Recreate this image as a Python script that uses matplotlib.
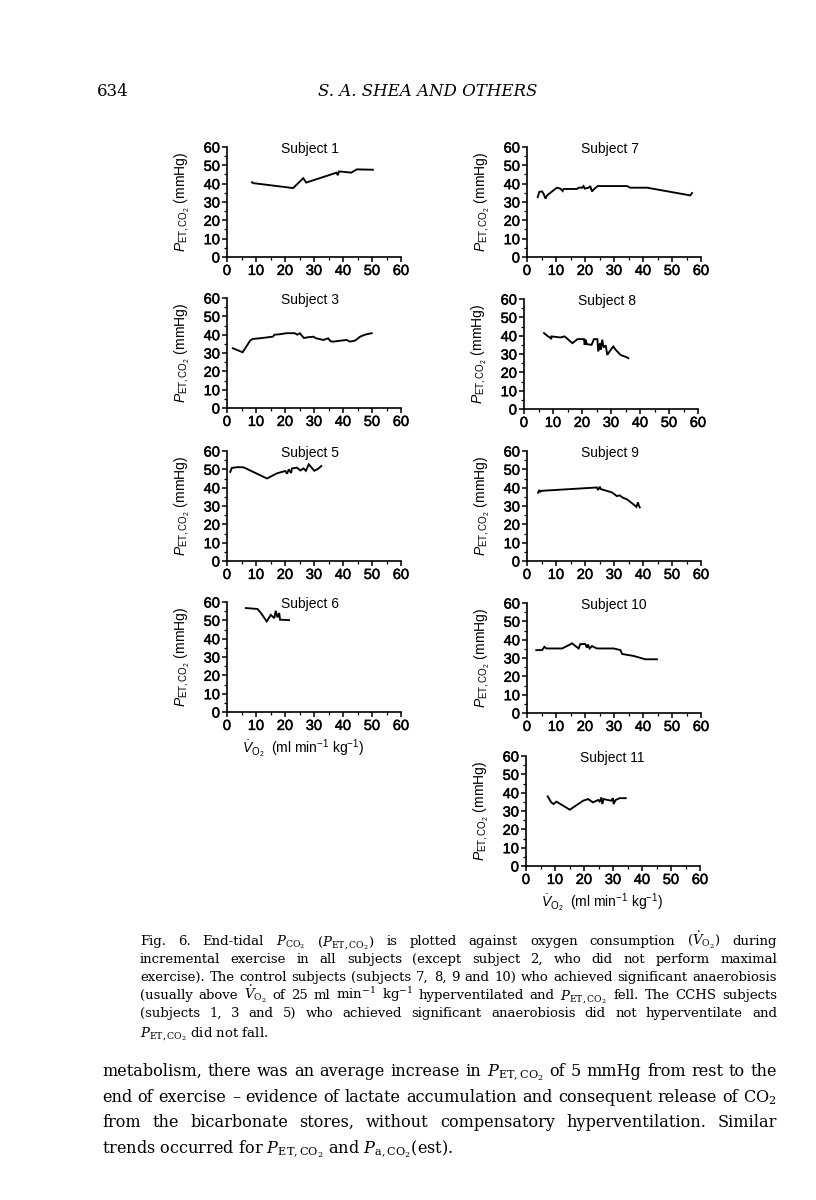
import matplotlib
matplotlib.use("Agg")
import matplotlib.pyplot as plt
import matplotlib.patheffects as pe
from matplotlib.ticker import MultipleLocator

plt.rcParams['font.family'] = ['Liberation Sans', 'DejaVu Sans']
plt.rcParams['mathtext.fontset'] = 'custom'
plt.rcParams['mathtext.rm'] = 'Liberation Sans'
plt.rcParams['mathtext.it'] = 'Liberation Sans:italic'
plt.rcParams['mathtext.bf'] = 'Liberation Sans:bold'

# ---------------- data (VO2 ml/min/kg, PET,CO2 mmHg) ----------------
s1_x = [8.6, 9.0, 22.8, 26.3, 27.3, 37.8, 38.2, 38.6, 39.3, 42.8, 44.8, 50.3]
s1_y = [40.8, 40.3, 37.6, 43.0, 40.6, 46.0, 44.6, 46.6, 46.6, 46.0, 47.8, 47.6]

s3_x = [2.0, 5.4, 8.0, 8.9, 11.2, 15.8, 16.4, 18.1, 20.5, 23.4, 24.2, 25.1, 26.5, 28.0,
        29.7, 30.8, 33.2, 34.9, 35.7, 36.6, 39.5, 41.3, 42.4, 44.2, 45.9, 47.6, 49.9]
s3_y = [32.6, 30.4, 36.8, 37.7, 38.0, 38.9, 40.0, 40.2, 40.8, 40.8, 40.0, 40.8, 38.2, 38.6,
        38.9, 38.0, 37.1, 38.0, 36.4, 36.2, 36.8, 37.1, 36.2, 36.8, 38.9, 40.0, 40.8]

s5_x = [1.1, 1.7, 3.7, 5.7, 13.8, 17.2, 20.1, 20.7, 21.3, 22.1, 22.4, 24.1, 25.3, 26.4,
        27.2, 28.2, 28.7, 30.1, 31.6, 32.5]
s5_y = [48.6, 50.8, 51.2, 51.1, 45.0, 47.8, 49.1, 47.6, 50.0, 48.0, 50.5, 50.9, 49.4, 50.5,
        49.2, 52.7, 51.8, 49.2, 50.5, 51.8]

s6_x = [6.5, 10.5, 11.7, 13.7, 15.1, 16.3, 16.8, 17.4, 18.0, 18.3, 19.1, 21.4]
s6_y = [56.7, 56.2, 54.0, 49.4, 53.0, 51.2, 55.2, 51.6, 54.0, 50.3, 50.3, 50.1]

s7_x = [3.7, 4.25, 5.2, 5.7, 6.4, 6.9, 10.3, 11.5, 12.3, 12.6, 17.2, 17.8, 19.0, 19.5,
        19.9, 21.3, 21.8, 22.4, 23.3, 24.4, 34.5, 35.6, 41.4, 56.3, 56.9]
s7_y = [32.7, 35.5, 35.8, 34.5, 31.8, 33.6, 37.8, 37.3, 36.0, 37.1, 37.1, 37.8, 37.8, 38.7,
        37.3, 37.8, 38.7, 35.8, 37.3, 38.7, 38.7, 37.8, 37.8, 33.6, 34.9]

s8_x = [6.9, 8.3, 9.0, 9.4, 9.5, 12.6, 14.0, 16.7, 18.4, 20.7, 20.9, 21.3, 21.6, 23.3,
        24.1, 25.3, 25.6, 26.2, 26.4, 27.0, 27.4, 28.2, 28.7, 29.9, 30.8, 31.6, 33.3, 35.6, 36.0]
s8_y = [41.4, 39.6, 39.0, 38.1, 39.6, 39.0, 39.6, 35.9, 38.1, 38.1, 35.0, 37.8, 35.4, 35.0,
        38.1, 38.1, 31.4, 35.9, 32.3, 37.8, 33.6, 34.7, 29.5, 32.3, 34.1, 32.3, 29.5, 28.1, 27.7]

s9_x = [3.8, 4.3, 4.6, 5.2, 24.1, 24.5, 25.1, 25.5, 29.3, 31.0, 31.9, 33.1, 34.5, 35.9,
        37.0, 37.7, 38.3, 38.5, 38.9]
s9_y = [37.2, 38.7, 37.8, 38.3, 40.1, 38.7, 40.5, 39.2, 37.4, 35.4, 35.8, 34.5, 33.6, 31.9,
        30.5, 29.5, 31.9, 30.5, 29.2]

s10_x = [3.2, 5.2, 6.0, 6.7, 12.1, 14.9, 15.5, 17.8, 18.4, 20.1, 20.7, 21.0, 21.6, 22.4,
         24.1, 29.9, 32.2, 32.8, 36.8, 40.8, 44.8]
s10_y = [34.3, 34.3, 36.1, 35.2, 35.2, 37.4, 38.0, 35.2, 37.6, 37.6, 35.6, 37.4, 35.2, 36.5,
         35.2, 35.2, 34.3, 32.2, 31.1, 29.3, 29.3]

s11_x = [7.5, 8.7, 9.5, 10.5, 15.1, 19.7, 21.4, 23.1, 24.3, 24.9, 25.4, 26.0, 26.3, 26.8,
         29.4, 30.0, 30.2, 30.9, 32.3, 34.4]
s11_y = [38.0, 34.7, 33.8, 35.1, 30.7, 35.6, 36.5, 34.7, 35.6, 36.0, 35.2, 37.4, 33.8, 36.5,
         35.6, 37.0, 33.8, 36.0, 37.0, 37.0]

subject_names = ["Subject 1", "Subject 3", "Subject 5", "Subject 6",
                 "Subject 7", "Subject 8", "Subject 9", "Subject 10", "Subject 11"]
x_ticks = [0, 10, 20, 30, 40, 50, 60]
y_ticks = [0, 10, 20, 30, 40, 50, 60]

caption_lines = [
    r"Fig. 6. End-tidal $P_{\mathrm{CO_2}}$ ($P_{\mathrm{ET,CO_2}}$) is plotted against oxygen consumption ($\dot{V}_{\mathrm{O_2}}$) during",
    r"incremental exercise in all subjects (except subject 2, who did not perform maximal",
    r"exercise). The control subjects (subjects 7, 8, 9 and 10) who achieved significant anaerobiosis",
    r"(usually above $\dot{V}_{\mathrm{O_2}}$ of 25 ml min$^{-1}$ kg$^{-1}$ hyperventilated and $P_{\mathrm{ET,CO_2}}$ fell. The CCHS subjects",
    r"(subjects 1, 3 and 5) who achieved significant anaerobiosis did not hyperventilate and",
    r"$P_{\mathrm{ET,CO_2}}$ did not fall.",
]
body_lines = [
    r"metabolism, there was an average increase in $P_{\mathrm{ET,CO_2}}$ of 5 mmHg from rest to the",
    r"end of exercise – evidence of lactate accumulation and consequent release of CO$_2$",
    r"from the bicarbonate stores, without compensatory hyperventilation. Similar",
    r"trends occurred for $P_{\mathrm{ET,CO_2}}$ and $P_{\mathrm{a,CO_2}}$(est).",
]

# ---------------- figure ----------------
W, H = 816, 1200
fig = plt.figure(figsize=(W / 100, H / 100), dpi=100)
fig.patch.set_facecolor('white')

series = {
    "Subject 1": (s1_x, s1_y), "Subject 3": (s3_x, s3_y), "Subject 5": (s5_x, s5_y),
    "Subject 6": (s6_x, s6_y), "Subject 7": (s7_x, s7_y), "Subject 8": (s8_x, s8_y),
    "Subject 9": (s9_x, s9_y), "Subject 10": (s10_x, s10_y), "Subject 11": (s11_x, s11_y),
}
# pixel boxes (left, bottom) of each panel
boxes = {
    "Subject 1": (227, 257), "Subject 3": (227, 408), "Subject 5": (227, 561),
    "Subject 6": (227, 712), "Subject 7": (527, 257), "Subject 8": (524, 409),
    "Subject 9": (527, 561), "Subject 10": (527, 713), "Subject 11": (526, 866),
}
AW, AH = 174, 110
ylab = r"$P_{\mathrm{ET,CO_2}}$ (mmHg)"
xlab = r"$\dot{V}_{\mathrm{O_2}}$  (ml min$^{-1}$ kg$^{-1}$)"
tick_fx = [pe.withStroke(linewidth=0.35, foreground='black')]

for name in subject_names:
    lx, by = boxes[name]
    ax = fig.add_axes([lx / W, 1 - by / H, AW / W, AH / H])
    xs, ys = series[name]
    ax.plot(xs, ys, color='black', lw=1.35, solid_joinstyle='miter')
    ax.set_xlim(0, 60)
    ax.set_ylim(0, 60)
    ax.set_xticks(x_ticks)
    ax.set_yticks(y_ticks)
    ax.xaxis.set_minor_locator(MultipleLocator(5))
    ax.yaxis.set_minor_locator(MultipleLocator(5))
    for s in ('top', 'right'):
        ax.spines[s].set_visible(False)
    for s in ('left', 'bottom'):
        ax.spines[s].set_linewidth(1.2)
    ax.tick_params(which='major', direction='out', length=3.5, width=1.1,
                   labelsize=10.5, pad=1.5)
    ax.tick_params(which='minor', direction='out', length=2, width=0.9)
    for lbl in ax.get_xticklabels() + ax.get_yticklabels():
        lbl.set_path_effects(tick_fx)
    ax.patch.set_alpha(0)
    ax.text(0.31, 0.985, name, transform=ax.transAxes, ha='left', va='center',
            fontsize=10)
    ax.text(-0.255, 0.5, ylab, transform=ax.transAxes, rotation=90,
            ha='center', va='center', fontsize=10)
    if name in ("Subject 6", "Subject 11"):
        ax.text(0.44, -0.33, xlab, transform=ax.transAxes, ha='center',
                va='center', fontsize=10)

# ---------------- page text ----------------
SERIF = 'DejaVu Serif'
renderer = fig.canvas.get_renderer()


def fit_size(lines, width_px, trial=10.0):
    mx = 0
    for line in lines[:-1]:
        t = fig.text(0, 0, line, fontsize=trial, family=SERIF,
                     math_fontfamily='dejavuserif')
        mx = max(mx, t.get_window_extent(renderer).width)
        t.remove()
    return trial * width_px / mx * 0.995


def justify(lines, x0, x1, baselines, size):
    for i, (line, yb) in enumerate(zip(lines, baselines)):
        y = 1 - yb / H
        if i == len(lines) - 1:
            fig.text(x0 / W, y, line, fontsize=size, family=SERIF, va='baseline',
                     ha='left', math_fontfamily='dejavuserif')
            continue
        words = line.split(' ')
        ts = [fig.text(0, y, w, fontsize=size, family=SERIF, va='baseline',
                       ha='left', math_fontfamily='dejavuserif') for w in words]
        ws = [t.get_window_extent(renderer).width for t in ts]
        gap = (x1 - x0 - sum(ws)) / (len(words) - 1)
        x = x0
        for t, w in zip(ts, ws):
            t.set_x(x / W)
            x += w + gap


cap_size = fit_size(caption_lines, 777 - 140)
justify(caption_lines, 140, 777, [945, 963, 981, 999, 1017, 1036], cap_size)

body_size = fit_size(body_lines, 777 - 102)
justify(body_lines, 102, 777, [1076, 1102, 1127, 1153], body_size)

fig.text(97 / W, 1 - 96 / H, "634", fontsize=12, family=SERIF, va='baseline', ha='left')
fig.text(428 / W, 1 - 96 / H, "S. A. SHEA AND OTHERS", fontsize=12, family=SERIF,
         style='italic', va='baseline', ha='center')

fig.savefig("out.png", dpi=100, facecolor='white')
